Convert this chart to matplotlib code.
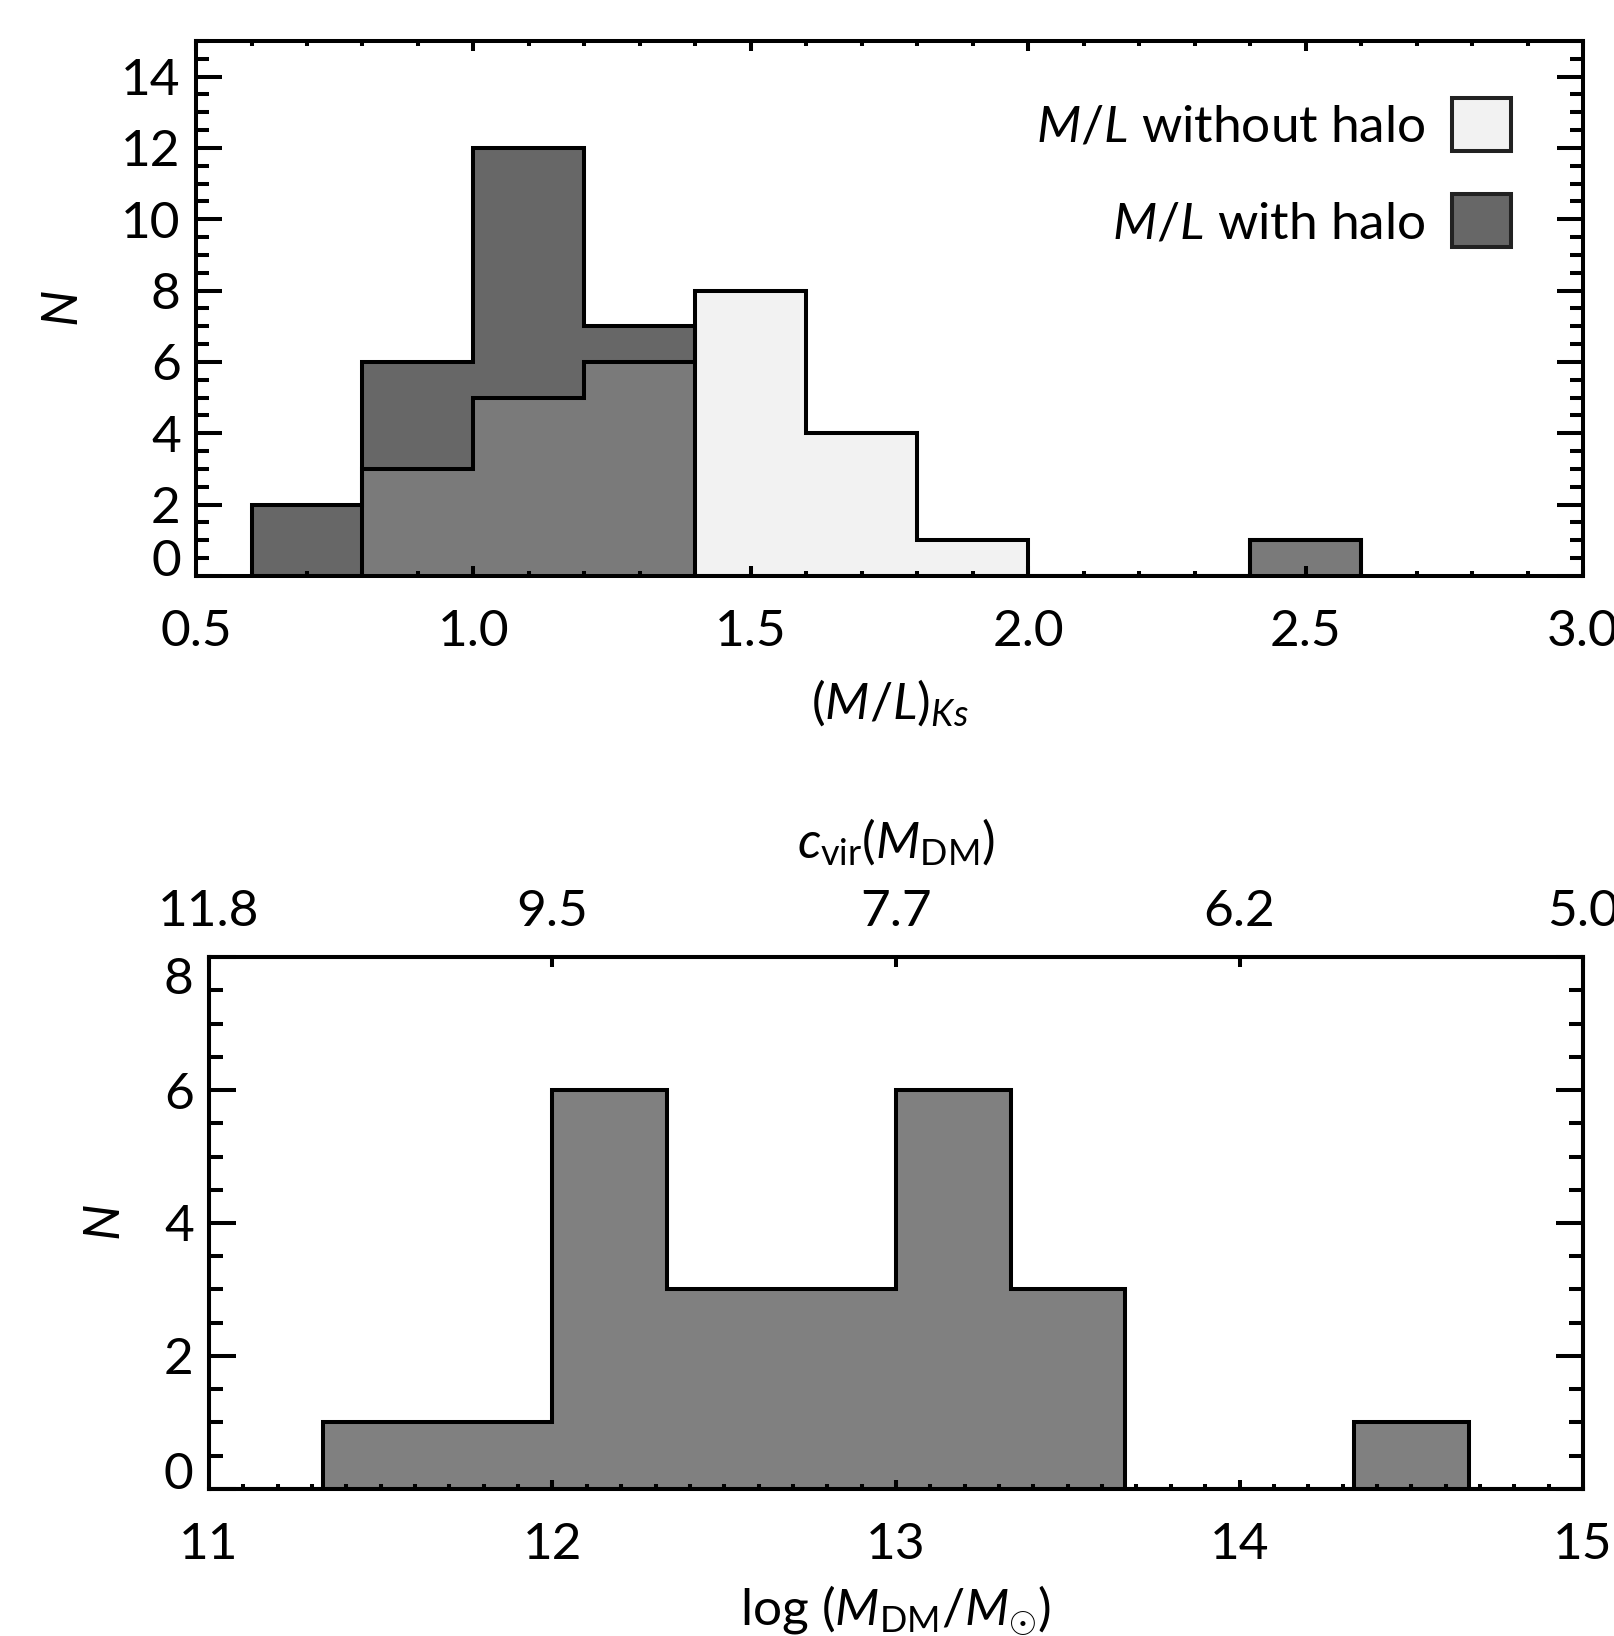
import numpy as np
import matplotlib
matplotlib.use("Agg")
import matplotlib.pyplot as plt
from matplotlib.patches import Patch
from matplotlib.ticker import MultipleLocator, FixedLocator

# ---------------- data ----------------
ml_edges = [0.6, 0.8, 1.0, 1.2, 1.4, 1.6, 1.8, 2.0, 2.2, 2.4, 2.6]
ml_with_halo = [2, 6, 12, 7, 0, 0, 0, 0, 0, 1]
ml_without_halo = [0, 3, 5, 6, 8, 4, 1, 0, 0, 1]

mdm_edges = np.linspace(11.0, 15.0, 13)
mdm_counts = [0, 1, 1, 6, 3, 3, 6, 3, 0, 0, 1, 0]

ml_xticks = [0.5, 1.0, 1.5, 2.0, 2.5, 3.0]
ml_yticks = [0, 2, 4, 6, 8, 10, 12, 14]
mdm_xticks = [11, 12, 13, 14, 15]
mdm_yticks = [0, 2, 4, 6, 8]
cvir_tick_pos = [11, 12, 13, 14, 15]
cvir_tick_labels = ["11.8", "9.5", "7.7", "6.2", "5.0"]

# ---------------- style ----------------
plt.rcParams["font.family"] = ["Lato", "DejaVu Sans"]
plt.rcParams["mathtext.fontset"] = "custom"
plt.rcParams["mathtext.rm"] = "Lato"
plt.rcParams["mathtext.it"] = "Lato:italic"
plt.rcParams["mathtext.bf"] = "Lato:bold"

FS = 37
LW = 2.9
C_DARK = "#676767"
C_MID = "#7a7a7a"
C_LIGHT = "#f2f2f2"
C_BOT = "#808080"

fig = plt.figure(figsize=(16.15, 16.36), dpi=100)

ax1 = fig.add_axes([0.1214, 0.648, 0.8588, 0.327])
ax2 = fig.add_axes([0.1294, 0.0899, 0.8508, 0.3251])

for ax in (ax1, ax2):
    for s in ax.spines.values():
        s.set_linewidth(LW)

# ---------------- top panel ----------------
overlap = np.minimum(ml_with_halo, ml_without_halo)
ax1.stairs(ml_with_halo, ml_edges, fill=True, color=C_DARK, zorder=1)
ax1.stairs(ml_without_halo, ml_edges, fill=True, color=C_LIGHT, zorder=1.1)
ax1.stairs(overlap, ml_edges, fill=True, color=C_MID, zorder=1.2)
ax1.stairs(ml_without_halo, ml_edges, fill=False, color="black", lw=LW, zorder=2)
ax1.stairs(ml_with_halo, ml_edges, fill=False, color="black", lw=LW, zorder=2.1)

ax1.set_xlim(0.5, 3.0)
ax1.set_ylim(0, 15)
ax1.set_xticks(ml_xticks)
ax1.set_xticklabels([f"{v:.1f}" for v in ml_xticks])
ax1.xaxis.set_minor_locator(MultipleLocator(0.1))
ax1.set_yticks(ml_yticks)
ax1.set_yticklabels([str(v) for v in ml_yticks])
ax1.yaxis.set_minor_locator(MultipleLocator(0.5))

ax1.tick_params(axis="x", which="major", direction="in", top=True, bottom=True,
                length=7.5, width=LW, labelsize=FS, pad=24)
ax1.tick_params(axis="x", which="minor", direction="in", top=True, bottom=True,
                length=3.6, width=LW)
ax1.tick_params(axis="y", which="major", direction="in", left=True, right=True,
                length=18.5, width=LW, labelsize=FS, pad=11)
ax1.tick_params(axis="y", which="minor", direction="in", left=True, right=True,
                length=9.3, width=LW)
ax1.yaxis.get_major_ticks()[0].label1.set_verticalalignment("baseline")

ax1.set_xlabel(r"$(M/L)_{Ks}$", fontsize=FS, labelpad=16)
ax1.set_ylabel(r"$N$", fontsize=FS, labelpad=25)

handles = [Patch(facecolor=C_LIGHT, edgecolor="#222222", lw=LW),
           Patch(facecolor=C_DARK, edgecolor="#222222", lw=LW)]
ax1.legend(handles, [r"$M/L$ without halo", r"$M/L$ with halo"],
           loc="upper right", bbox_to_anchor=(0.948, 0.894), frameon=False,
           fontsize=FS, markerfirst=False, handlelength=1.14, handleheight=1.22,
           handletextpad=0.53, labelspacing=0.84, borderpad=0, borderaxespad=0)

# ---------------- bottom panel ----------------
ax2.stairs(mdm_counts, mdm_edges, fill=True, color=C_BOT, zorder=1)
ax2.stairs(mdm_counts, mdm_edges, fill=False, color="black", lw=LW, zorder=2)

ax2.set_xlim(11, 15)
ax2.set_ylim(0, 8)
ax2.set_xticks(mdm_xticks)
ax2.set_xticklabels([str(v) for v in mdm_xticks])
ax2.xaxis.set_minor_locator(MultipleLocator(0.1))
ax2.set_yticks(mdm_yticks)
ax2.set_yticklabels([str(v) for v in mdm_yticks])
ax2.yaxis.set_minor_locator(MultipleLocator(0.5))

ax2.tick_params(axis="x", which="major", direction="in", top=False, bottom=True,
                length=6.5, width=LW, labelsize=FS, pad=24)
ax2.tick_params(axis="x", which="minor", direction="in", top=False, bottom=True,
                length=3.6, width=LW)
ax2.tick_params(axis="y", which="major", direction="in", left=True, right=True,
                length=19.5, width=LW, labelsize=FS, pad=11)
ax2.tick_params(axis="y", which="minor", direction="in", left=True, right=True,
                length=10, width=LW)
ax2.yaxis.get_major_ticks()[0].label1.set_verticalalignment("baseline")
ax2.yaxis.get_major_ticks()[-1].label1.set_verticalalignment("top")

ax2.set_xlabel(r"log $(M_{\rm DM}/M_{\odot})$", fontsize=FS, labelpad=11)
ax2.set_ylabel(r"$N$", fontsize=FS, labelpad=25)

axt = ax2.twiny()
axt.set_xlim(ax2.get_xlim())
axt.set_xticks(cvir_tick_pos)
axt.set_xticklabels(cvir_tick_labels)
axt.tick_params(axis="x", which="major", direction="in", top=True,
                length=7.5, width=LW, labelsize=FS, pad=16)
axt.xaxis.set_minor_locator(FixedLocator([]))
axt.set_xlabel(r"$c_{\rm vir}(M_{\rm DM})$", fontsize=FS, labelpad=22)
for s in axt.spines.values():
    s.set_linewidth(LW)

fig.savefig("out.png", dpi=100)
